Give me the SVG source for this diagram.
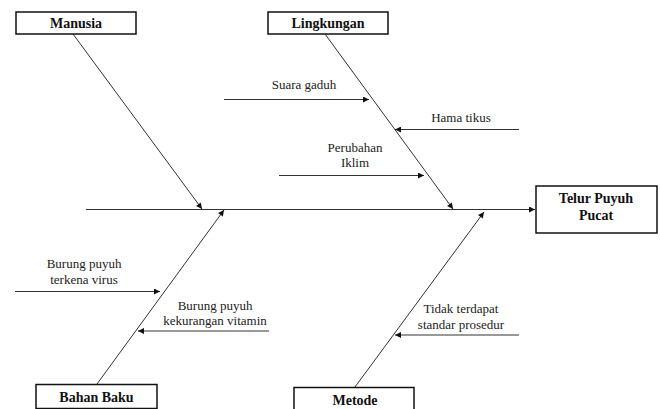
<svg xmlns="http://www.w3.org/2000/svg" width="660" height="409" viewBox="0 0 660 409">
<defs>
<marker id="ah" viewBox="0 0 10 10" refX="10" refY="5" markerWidth="8" markerHeight="6" markerUnits="userSpaceOnUse" orient="auto">
<path d="M0,0 L10,5 L0,10 z" fill="#111"/>
</marker>
<style>
.box{fill:#fff;stroke:#111;stroke-width:1.5}
.lb{font-family:'Liberation Serif','Times New Roman',Times,'DejaVu Serif',serif;font-weight:bold;font-size:14px;fill:#111;text-anchor:middle}
.tx{font-family:'Liberation Serif','Times New Roman',Times,'DejaVu Serif',serif;font-size:13px;fill:#222;text-anchor:middle}
.ln{stroke:#333;stroke-width:1;fill:none;marker-end:url(#ah)}
</style>
</defs>
<rect width="660" height="409" fill="#fff"/>
<g id="connectors">
<line class="ln" x1="86" y1="209.5" x2="535" y2="209.5"/>
<line class="ln" x1="73" y1="34" x2="202" y2="209"/>
<line class="ln" x1="325" y1="34" x2="453" y2="209"/>
<line class="ln" x1="97" y1="384" x2="224" y2="210"/>
<line class="ln" x1="355" y1="387" x2="484" y2="212"/>
<line class="ln" x1="224" y1="99.5" x2="369" y2="99.5"/>
<line class="ln" x1="519" y1="129.5" x2="395" y2="129.5"/>
<line class="ln" x1="279" y1="175.5" x2="424" y2="175.5"/>
<line class="ln" x1="15" y1="291.5" x2="160" y2="291.5"/>
<line class="ln" x1="269" y1="331" x2="138" y2="331"/>
<line class="ln" x1="519" y1="335" x2="395" y2="335"/>
</g>
<g id="manusia">
<rect class="box" x="16" y="12" width="120" height="22"/>
<text class="lb" x="76" y="28">Manusia</text>
</g>
<g id="lingkungan">
<rect class="box" x="268" y="12" width="120" height="22"/>
<text class="lb" x="328" y="28">Lingkungan</text>
</g>
<g id="telur">
<rect class="box" x="536" y="186" width="121" height="47"/>
<text class="lb" x="596" y="203">Telur Puyuh</text>
<text class="lb" x="596" y="219.5">Pucat</text>
</g>
<g id="bahanbaku">
<rect class="box" x="36" y="384.5" width="121" height="24"/>
<text class="lb" x="96.5" y="402">Bahan Baku</text>
</g>
<g id="metode">
<rect class="box" x="294" y="387.5" width="120" height="24"/>
<text class="lb" x="355" y="404.5">Metode</text>
</g>
<g id="suara">
<text class="tx" x="304" y="89">Suara gaduh</text>
</g>
<g id="hama">
<text class="tx" x="461" y="122">Hama tikus</text>
</g>
<g id="perubahan">
<text class="tx" x="355" y="152">Perubahan</text>
<text class="tx" x="355" y="167">Iklim</text>
</g>
<g id="virus">
<text class="tx" x="84" y="268">Burung puyuh</text>
<text class="tx" x="84" y="283.5">terkena virus</text>
</g>
<g id="vitamin">
<text class="tx" x="215" y="309.5">Burung puyuh</text>
<text class="tx" x="215" y="325">kekurangan vitamin</text>
</g>
<g id="prosedur">
<text class="tx" x="461" y="313">Tidak terdapat</text>
<text class="tx" x="461" y="328.5">standar prosedur</text>
</g>
</svg>
